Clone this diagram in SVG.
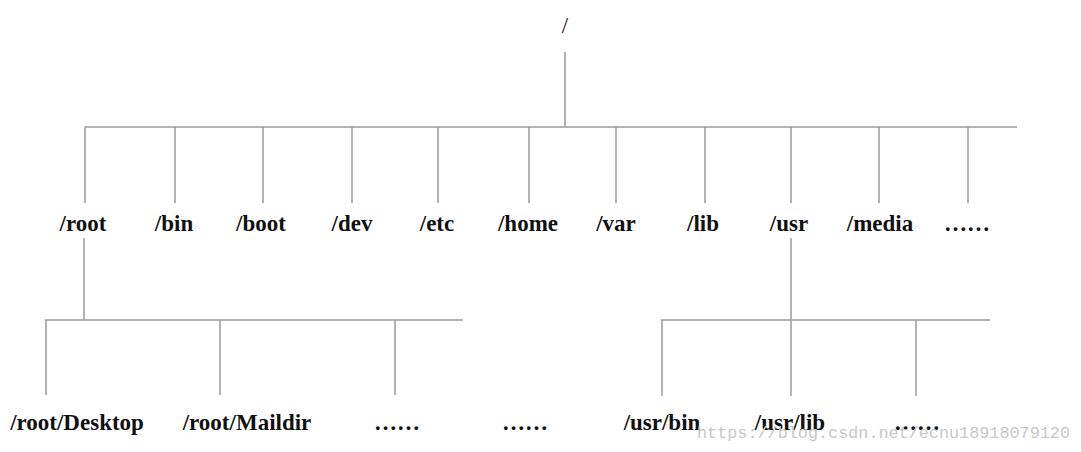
<svg xmlns="http://www.w3.org/2000/svg" width="1081" height="452" viewBox="0 0 1081 452">
<style>
.l{stroke:#9a9a9a;stroke-width:1.5;fill:none}
.t{font-family:"Liberation Serif","Times New Roman",serif;font-weight:bold;font-size:23px;fill:#111;text-anchor:middle}
.wm{font-family:"Liberation Mono","DejaVu Sans Mono",monospace;font-size:17px;fill:#c8c8c8}
</style>
<rect width="1081" height="452" fill="#fff"/>
<g id="connectors">
<path class="l" d="M565 52V127M85 127H1017"/>
<path class="l" d="M85 127V203M175 127V203M263 127V203M352 127V203M438 127V203M529 127V203M616 127V203M705 127V203M791 127V203M879 127V203M968 127V203"/>
<path class="l" d="M84 238V320M45 320H463M46 320V395M220 320V395M395 320V395"/>
<path class="l" d="M791 238V320M661 320H990M662 320V396M791 320V396M916 320V396"/>
</g>
<g id="n-slash"><text class="t" x="565" y="33" font-weight="normal" style="font-weight:normal">/</text></g>
<g id="n-root"><text class="t" x="83" y="231">/root</text></g>
<g id="n-bin"><text class="t" x="174" y="231">/bin</text></g>
<g id="n-boot"><text class="t" x="261" y="231">/boot</text></g>
<g id="n-dev"><text class="t" x="352" y="231">/dev</text></g>
<g id="n-etc"><text class="t" x="437" y="231">/etc</text></g>
<g id="n-home"><text class="t" x="528" y="231">/home</text></g>
<g id="n-var"><text class="t" x="616" y="231">/var</text></g>
<g id="n-lib"><text class="t" x="703" y="231">/lib</text></g>
<g id="n-usr"><text class="t" x="789" y="231">/usr</text></g>
<g id="n-media"><text class="t" x="880" y="231">/media</text></g>
<g id="n-more1"><text class="t" x="967" y="231">……</text></g>
<g id="n-desktop"><text class="t" x="77" y="430">/root/Desktop</text></g>
<g id="n-maildir"><text class="t" x="247" y="430">/root/Maildir</text></g>
<g id="n-more2"><text class="t" x="397" y="430">……</text></g>
<g id="n-more3"><text class="t" x="525" y="430">……</text></g>
<g id="n-usrbin"><text class="t" x="662" y="430">/usr/bin</text></g>
<g id="n-usrlib"><text class="t" x="790" y="430">/usr/lib</text></g>
<g id="n-more4"><text class="t" x="917" y="430">……</text></g>
<text class="wm" x="697" y="438" textLength="373" lengthAdjust="spacingAndGlyphs">https://blog.csdn.net/ecnu18918079120</text>
</svg>
